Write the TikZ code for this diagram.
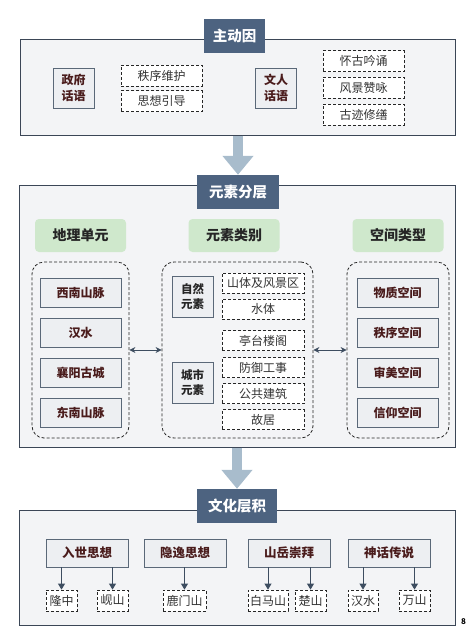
\documentclass[tikz,border=0pt]{standalone}
\usepackage{fontspec}
\setmainfont{Noto Sans CJK SC}
\usetikzlibrary{positioning, arrows.meta, backgrounds, fit}
\definecolor{slate}{HTML}{4D6380}
\definecolor{frame}{HTML}{3B4656}
\definecolor{panelfill}{HTML}{F3F4F6}
\definecolor{boxline}{HTML}{5A6878}
\definecolor{boxfill}{HTML}{EDEFF2}
\definecolor{maroon}{HTML}{4A1C1C}
\definecolor{leafgreen}{HTML}{CFE8CC}
\definecolor{flow}{HTML}{A8BCCC}
\definecolor{darkarrow}{HTML}{3D4D60}

\begin{document}
\begin{tikzpicture}[
        x=1pt, y=-1pt,
        panel_node/.style={rectangle, fill=panelfill, draw=frame, line width=1pt, inner sep=0pt},
        title_node/.style={rectangle, fill=slate, text=white, minimum height=34pt, inner sep=0pt, font=\fontsize{14.5}{16}\selectfont\bfseries},
        head_node/.style={rectangle, rounded corners=4pt, fill=leafgreen, text=black!85, minimum width=91pt, minimum height=33pt, font=\fontsize{14}{16}\selectfont\bfseries},
        group_node/.style={rectangle, rounded corners=12pt, draw=black!85, dash pattern=on 3pt off 2pt, line width=0.8pt, fill=panelfill, inner sep=0pt},
        key_node/.style={rectangle, draw=boxline, fill=boxfill, line width=0.9pt, text=maroon, align=center, inner sep=0pt, font=\fontsize{12}{16}\selectfont\bfseries},
        item_node/.style={rectangle, draw=black!85, dash pattern=on 3pt off 2pt, line width=0.8pt, fill=white, text=black!80, minimum height=21pt, inner sep=0pt, font=\fontsize{12}{14}\selectfont},
        arrow/.style={-{Triangle[width=7pt, length=6pt]}, line width=1pt, draw=darkarrow},
        bi_arrow/.style={{Stealth[width=6pt, length=6pt]}-{Stealth[width=6pt, length=6pt]}, line width=0.9pt, draw=darkarrow},
        flow_arrow/.style={-{Triangle[width=30pt, length=19pt]}, line width=10pt, draw=flow}
    ]
        \useasboundingbox (0,0) rectangle (473,640);

        % Panel one: driving forces
        \node (title_a) [title_node, minimum width=61pt] at (234.5,36) {主动因};
        \node (gov) [key_node, minimum width=41pt, minimum height=40pt] at (73.5,88) {政府\\话语};
        \node (order) [item_node, minimum width=81pt] at (161.5,75.5) {秩序维护};
        \node (guide) [item_node, minimum width=81pt] at (161.5,101) {思想引导};
        \node (literati) [key_node, minimum width=41pt, minimum height=40pt] at (276,88) {文人\\话语};
        \node (chant) [item_node, minimum width=81pt] at (363.5,61) {怀古吟诵};
        \node (praise) [item_node, minimum width=81pt] at (363.5,87.5) {风景赞咏};
        \node (repair) [item_node, minimum width=81pt] at (363.5,114.5) {古迹修缮};

        % Panel two: element layers
        \node (title_b) [title_node, minimum width=82pt] at (238,192) {元素分层};
        \node (geo_head) [head_node] at (80.5,235.5) {地理单元};
        \node (type_head) [head_node] at (234,235.5) {元素类别};
        \node (space_head) [head_node] at (398,235.5) {空间类型};

        \node (southwest) [key_node, minimum width=81pt, minimum height=29pt] at (80.5,292.5) {西南山脉};
        \node (hanshui) [key_node, minimum width=81pt, minimum height=29pt] at (80.5,332.5) {汉水};
        \node (oldcity) [key_node, minimum width=81pt, minimum height=29pt] at (80.5,372.5) {襄阳古城};
        \node (southeast) [key_node, minimum width=81pt, minimum height=29pt] at (80.5,412.5) {东南山脉};

        \node (nature) [key_node, minimum width=41pt, minimum height=41pt, font=\fontsize{11.5}{15}\selectfont\bfseries, text=black!85] at (192.5,296.5) {自然\\元素};
        \node (urban) [key_node, minimum width=41pt, minimum height=41pt, font=\fontsize{11.5}{15}\selectfont\bfseries, text=black!85] at (192.5,382.5) {城市\\元素};
        \node (scenic) [item_node, minimum width=82pt, minimum height=20pt] at (263,283) {山体及风景区};
        \node (water) [item_node, minimum width=82pt, minimum height=20pt] at (263,309) {水体};
        \node (pavilion) [item_node, minimum width=82pt, minimum height=20pt] at (263,340.5) {亭台楼阁};
        \node (defense) [item_node, minimum width=82pt, minimum height=20pt] at (263,367.5) {防御工事};
        \node (public) [item_node, minimum width=82pt, minimum height=20pt] at (263,393.5) {公共建筑};
        \node (residence) [item_node, minimum width=82pt, minimum height=20pt] at (263,419.5) {故居};

        \node (material) [key_node, minimum width=81pt, minimum height=29pt] at (397.5,292.5) {物质空间};
        \node (orderly) [key_node, minimum width=81pt, minimum height=29pt] at (397.5,332.5) {秩序空间};
        \node (aesthetic) [key_node, minimum width=81pt, minimum height=29pt] at (397.5,372.5) {审美空间};
        \node (belief) [key_node, minimum width=81pt, minimum height=29pt] at (397.5,412.5) {信仰空间};

        % Panel three: cultural accumulation
        \node (title_c) [title_node, minimum width=80pt] at (237,506) {文化层积};
        \node (worldly) [key_node, minimum width=82pt, minimum height=28pt, font=\fontsize{12.5}{16}\selectfont\bfseries] at (87,553) {入世思想};
        \node (recluse) [key_node, minimum width=82pt, minimum height=28pt, font=\fontsize{12.5}{16}\selectfont\bfseries] at (185,553) {隐逸思想};
        \node (mountain) [key_node, minimum width=82pt, minimum height=28pt, font=\fontsize{12.5}{16}\selectfont\bfseries] at (289,553) {山岳崇拜};
        \node (legend) [key_node, minimum width=82pt, minimum height=28pt, font=\fontsize{12.5}{16}\selectfont\bfseries] at (389,553) {神话传说};

        \node (longzhong) [item_node, minimum width=31pt] at (61.5,600.5) {隆中};
        \node (xianshan) [item_node, minimum width=31pt] at (112.5,600.5) {岘山};
        \node (lumen) [item_node, minimum width=43pt] at (184.5,600.5) {鹿门山};
        \node (baima) [item_node, minimum width=40pt] at (268,600.5) {白马山};
        \node (chushan) [item_node, minimum width=31pt] at (310.5,600.5) {楚山};
        \node (hanriver) [item_node, minimum width=30pt] at (363,600.5) {汉水};
        \node (wanshan) [item_node, minimum width=31pt] at (414.5,600.5) {万山};

        \node (pageno) [font=\fontsize{8}{9}\selectfont\bfseries, inner sep=0pt] at (463.5,622) {8};

        % Groups
        \begin{scope}[on background layer]
            \node (panel_a) [panel_node, fit={(20,39) (455,135)}] {};
            \node (panel_b) [panel_node, fit={(19,185) (455,447)}] {};
            \node (panel_c) [panel_node, fit={(19,510) (455,625)}] {};
            \node (geo_group) [group_node, fit={(32,262) (129,438)}] {};
            \node (type_group) [group_node, fit={(162,262) (313,438)}] {};
            \node (space_group) [group_node, fit={(347,262) (449,438)}] {};
        \end{scope}

        % Arrows
        \draw [flow_arrow] (panel_a.south -| title_b) -- (title_b.north);
        \draw [flow_arrow] (panel_b.south -| title_c) -- (title_c.north);
        \draw [bi_arrow] (geo_group.east) -- (type_group.west);
        \draw [bi_arrow] (type_group.east) -- (space_group.west);
        \draw [arrow] (worldly.south -| longzhong) -- (longzhong.north);
        \draw [arrow] (worldly.south -| xianshan) -- (xianshan.north);
        \draw [arrow] (recluse.south -| lumen) -- (lumen.north);
        \draw [arrow] (mountain.south -| baima) -- (baima.north);
        \draw [arrow] (mountain.south -| chushan) -- (chushan.north);
        \draw [arrow] (legend.south -| hanriver) -- (hanriver.north);
        \draw [arrow] (legend.south -| wanshan) -- (wanshan.north);
    \end{tikzpicture}
\end{document}
